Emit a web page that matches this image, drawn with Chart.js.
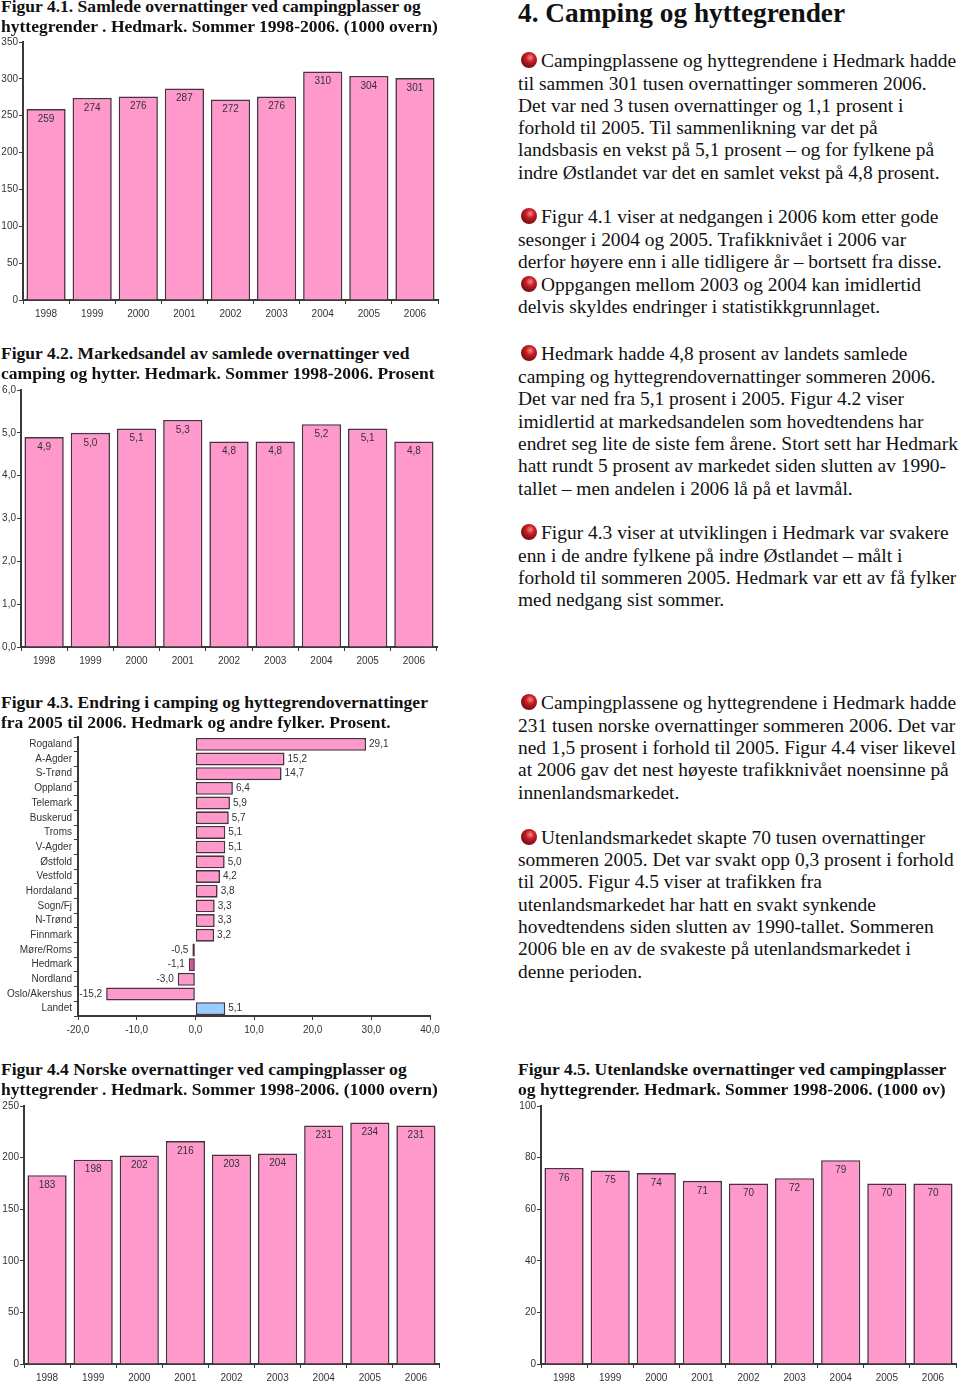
<!DOCTYPE html>
<html>
<head>
<meta charset="utf-8">
<title>Camping og hyttegrender</title>
<script src="https://cdn.jsdelivr.net/npm/chart.js@4/dist/chart.umd.min.js"></script>
<style>
  html, body { margin: 0; padding: 0; background: #fff; }
  #page { position: relative; width: 960px; height: 1384px; overflow: hidden; font-family: "Liberation Serif", serif; color: #000; }
  #page canvas { position: absolute; }
  .line { position: absolute; white-space: nowrap; font-size: 19.45px; line-height: 22px; color: #111; }
  .cap { position: absolute; white-space: nowrap; font-size: 17.55px; line-height: 20px; font-weight: bold; color: #111; }
  .bullet { position: absolute; width: 16px; height: 16px; border-radius: 50%;
    background: radial-gradient(circle at 58% 35%, #f08a8a 0, #c81c24 32%, #7c1016 68%, #4a3a3a 100%); }
</style>
</head>
<body>
<div id="page"></div>
<script>
// data
const years = ["1998", "1999", "2000", "2001", "2002", "2003", "2004", "2005", "2006"];

const totalValues = [259, 274, 276, 287, 272, 276, 310, 304, 301];
const shareValues = [4.9, 5.0, 5.1, 5.3, 4.8, 4.8, 5.2, 5.1, 4.8];
const norskValues = [183, 198, 202, 216, 203, 204, 231, 234, 231];
const utlandValues = [76, 75, 74, 71, 70, 72, 79, 70, 70];

const fylker = ["Rogaland", "A-Agder", "S-Trønd", "Oppland", "Telemark", "Buskerud", "Troms", "V-Agder", "Østfold", "Vestfold", "Hordaland", "Sogn/Fj", "N-Trønd", "Finnmark", "Møre/Roms", "Hedmark", "Nordland", "Oslo/Akershus", "Landet"];
const endringValues = [29.1, 15.2, 14.7, 6.4, 5.9, 5.7, 5.1, 5.1, 5.0, 4.2, 3.8, 3.3, 3.3, 3.2, -0.5, -1.1, -3.0, -15.2, 5.1];

const PINK = "#ff99cc";
const DARK_PINK = "#f0429c";
const BLUE = "#99ccff";
const EDGE = "#4b2f42";
const INK = "#3a3a3a";
const TICK_FONT = { family: "Liberation Sans", size: 10 };

const comma = (v) => v.toFixed(1).replace(".", ",");

const page = document.getElementById("page");

const barLabels = {
  id: "barLabels",
  afterDatasetsDraw(chart, args, opts) {
    const ctx = chart.ctx;
    const meta = chart.getDatasetMeta(0);
    ctx.save();
    ctx.font = "10px 'Liberation Sans'";
    ctx.fillStyle = "#333";
    ctx.textBaseline = "middle";
    meta.data.forEach((bar, i) => {
      const v = chart.data.datasets[0].data[i];
      const txt = opts.format(v);
      if (chart.options.indexAxis === "y") {
        ctx.textAlign = v < 0 ? "right" : "left";
        ctx.fillText(txt, bar.x + (v < 0 ? -4 : 3), bar.y);
      } else {
        ctx.textAlign = "center";
        ctx.fillText(txt, bar.x, bar.y + 10);
      }
    });
    ctx.restore();
  }
};

function addCanvas(x, y, w, h) {
  const c = document.createElement("canvas");
  c.width = w;
  c.height = h;
  c.style.left = x + "px";
  c.style.top = y + "px";
  c.style.width = w + "px";
  c.style.height = h + "px";
  page.appendChild(c);
  return c;
}

// vertical year charts: box = plot area in page pixels
function yearChart(box, values, yMax, yStep, format) {
  const canvasX = box.left - 30, canvasY = box.top - 8;
  const canvas = addCanvas(canvasX, canvasY, box.right - box.left + 36, box.bottom - box.top + 35);
  return new Chart(canvas, {
    type: "bar",
    data: {
      labels: years,
      datasets: [{
        data: values,
        backgroundColor: PINK,
        borderColor: EDGE,
        borderWidth: 1.6,
        borderSkipped: "bottom",
        barPercentage: 0.85,
        categoryPercentage: 1
      }]
    },
    options: {
      responsive: false,
      animation: false,
      layout: { padding: { top: 8, right: 6, left: 0, bottom: 0 } },
      scales: {
        x: {
          afterFit(s) { s.height = 27; },
          border: { color: INK, width: 2 },
          grid: { drawOnChartArea: false, color: INK, tickLength: 4, lineWidth: 1 },
          ticks: { color: "#333", font: TICK_FONT, maxRotation: 0, autoSkip: false, padding: 4 }
        },
        y: {
          min: 0,
          max: yMax,
          afterFit(s) { s.width = 30; },
          border: { color: INK, width: 2 },
          grid: { drawOnChartArea: false, color: INK, tickLength: 4, lineWidth: 1 },
          ticks: { stepSize: yStep, color: "#333", font: TICK_FONT, padding: 1, callback: (v) => format(v) }
        }
      },
      plugins: {
        legend: { display: false },
        tooltip: { enabled: false },
        barLabels: { format }
      }
    },
    plugins: [barLabels]
  });
}

const plain = (v) => String(v);

yearChart({ left: 23, right: 438, top: 42, bottom: 300 }, totalValues, 350, 50, plain);
yearChart({ left: 21, right: 437, top: 390, bottom: 647 }, shareValues, 6, 1, comma);
yearChart({ left: 24, right: 439, top: 1106, bottom: 1364 }, norskValues, 250, 50, plain);
yearChart({ left: 541, right: 956, top: 1106, bottom: 1364 }, utlandValues, 100, 20, plain);

// Figur 4.3
new Chart(addCanvas(0, 729, 445, 311), {
  type: "bar",
  data: {
    labels: fylker,
    datasets: [{
      data: endringValues,
      backgroundColor: fylker.map((f) => f === "Landet" ? BLUE : f === "Hedmark" ? DARK_PINK : PINK),
      borderColor: EDGE,
      borderWidth: 1.6,
      borderSkipped: false,
      barPercentage: 0.88,
      categoryPercentage: 1
    }]
  },
  options: {
    indexAxis: "y",
    responsive: false,
    animation: false,
    layout: { padding: { top: 8, right: 15, left: 0, bottom: 0 } },
    scales: {
      x: {
        min: -20,
        max: 40,
        afterFit(s) { s.height = 24; },
        border: { color: INK, width: 2 },
        grid: { drawOnChartArea: false, color: INK, tickLength: 4, lineWidth: 1 },
        ticks: { stepSize: 10, color: "#333", font: TICK_FONT, maxRotation: 0, padding: 4, callback: (v) => comma(v) }
      },
      y: {
        afterFit(s) { s.width = 78; },
        border: { color: INK, width: 2 },
        grid: { drawOnChartArea: false, color: INK, tickLength: 4, lineWidth: 1 },
        ticks: { color: "#333", font: TICK_FONT, autoSkip: false, padding: 2 }
      }
    },
    plugins: {
      legend: { display: false },
      tooltip: { enabled: false },
      barLabels: { format: comma }
    }
  },
  plugins: [barLabels]
});

// captions and running text
const captions = [
  [1, 7, "Figur 4.1. Samlede overnattinger ved campingplasser og"],
  [1, 27, "hyttegrender . Hedmark. Sommer 1998-2006. (1000 overn)"],
  [1, 354, "Figur 4.2. Markedsandel av samlede overnattinger ved"],
  [1, 374, "camping og hytter. Hedmark. Sommer 1998-2006. Prosent"],
  [1, 703, "Figur 4.3. Endring i camping og hyttegrendovernattinger"],
  [1, 723, "fra 2005 til 2006. Hedmark og andre fylker. Prosent."],
  [1, 1070, "Figur 4.4 Norske overnattinger ved campingplasser og"],
  [1, 1090, "hyttegrender . Hedmark. Sommer 1998-2006. (1000 overn)"],
  [518, 1070, "Figur 4.5. Utenlandske overnattinger ved campingplasser"],
  [518, 1090, "og hyttegrender. Hedmark. Sommer 1998-2006. (1000 ov)"]
];

const bodyLines = [
  [541, 61, "Campingplassene og hyttegrendene i Hedmark hadde", 1],
  [518, 84, "til sammen 301 tusen overnattinger sommeren 2006."],
  [518, 106, "Det var ned 3 tusen overnattinger og 1,1 prosent i"],
  [518, 128, "forhold til 2005. Til sammenlikning var det på"],
  [518, 150, "landsbasis en vekst på 5,1 prosent – og for fylkene på"],
  [518, 173, "indre Østlandet var det en samlet vekst på 4,8 prosent."],
  [541, 217, "Figur 4.1 viser at nedgangen i 2006 kom etter gode", 1],
  [518, 240, "sesonger i 2004 og 2005. Trafikknivået i 2006 var"],
  [518, 262, "derfor høyere enn i alle tidligere år – bortsett fra disse."],
  [541, 285, "Oppgangen mellom 2003 og 2004 kan imidlertid", 1],
  [518, 307, "delvis skyldes endringer i statistikkgrunnlaget."],
  [541, 354, "Hedmark hadde 4,8 prosent av landets samlede", 1],
  [518, 377, "camping og hyttegrendovernattinger sommeren 2006."],
  [518, 399, "Det var ned fra 5,1 prosent i 2005. Figur 4.2 viser"],
  [518, 422, "imidlertid at markedsandelen som hovedtendens har"],
  [518, 444, "endret seg lite de siste fem årene. Stort sett har Hedmark"],
  [518, 466, "hatt rundt 5 prosent av markedet siden slutten av 1990-"],
  [518, 489, "tallet – men andelen i 2006 lå på et lavmål."],
  [541, 533, "Figur 4.3 viser at utviklingen i Hedmark var svakere", 1],
  [518, 556, "enn i de andre fylkene på indre Østlandet – målt i"],
  [518, 578, "forhold til sommeren 2005. Hedmark var ett av få fylker"],
  [518, 600, "med nedgang sist sommer."],
  [541, 703, "Campingplassene og hyttegrendene i Hedmark hadde", 1],
  [518, 726, "231 tusen norske overnattinger sommeren 2006. Det var"],
  [518, 748, "ned 1,5 prosent i forhold til 2005. Figur 4.4 viser likevel"],
  [518, 770, "at 2006 gav det nest høyeste trafikknivået noensinne på"],
  [518, 793, "innenlandsmarkedet."],
  [541, 838, "Utenlandsmarkedet skapte 70 tusen overnattinger", 1],
  [518, 860, "sommeren 2005. Det var svakt opp 0,3 prosent i forhold"],
  [518, 882, "til 2005. Figur 4.5 viser at trafikken fra"],
  [518, 905, "utenlandsmarkedet har hatt en svakt synkende"],
  [518, 927, "hovedtendens siden slutten av 1990-tallet. Sommeren"],
  [518, 949, "2006 ble en av de svakeste på utenlandsmarkedet i"],
  [518, 972, "denne perioden."]
];

function addText(cls, x, midY, txt) {
  const d = document.createElement("div");
  d.className = cls;
  d.style.left = x + "px";
  d.style.top = (midY - 11) + "px";
  d.textContent = txt;
  page.appendChild(d);
  return d;
}

captions.forEach(([x, y, t]) => addText("cap", x, y, t));
bodyLines.forEach(([x, y, t, dot]) => {
  addText("line", x, y, t);
  if (dot) {
    const b = document.createElement("div");
    b.className = "bullet";
    b.style.left = "521px";
    b.style.top = (y - 9) + "px";
    page.appendChild(b);
  }
});

const h = addText("cap", 518, 13, "4. Camping og hyttegrender");
h.style.fontSize = "27.3px";
h.style.lineHeight = "30px";
h.style.top = "-2px";
</script>
</body>
</html>
